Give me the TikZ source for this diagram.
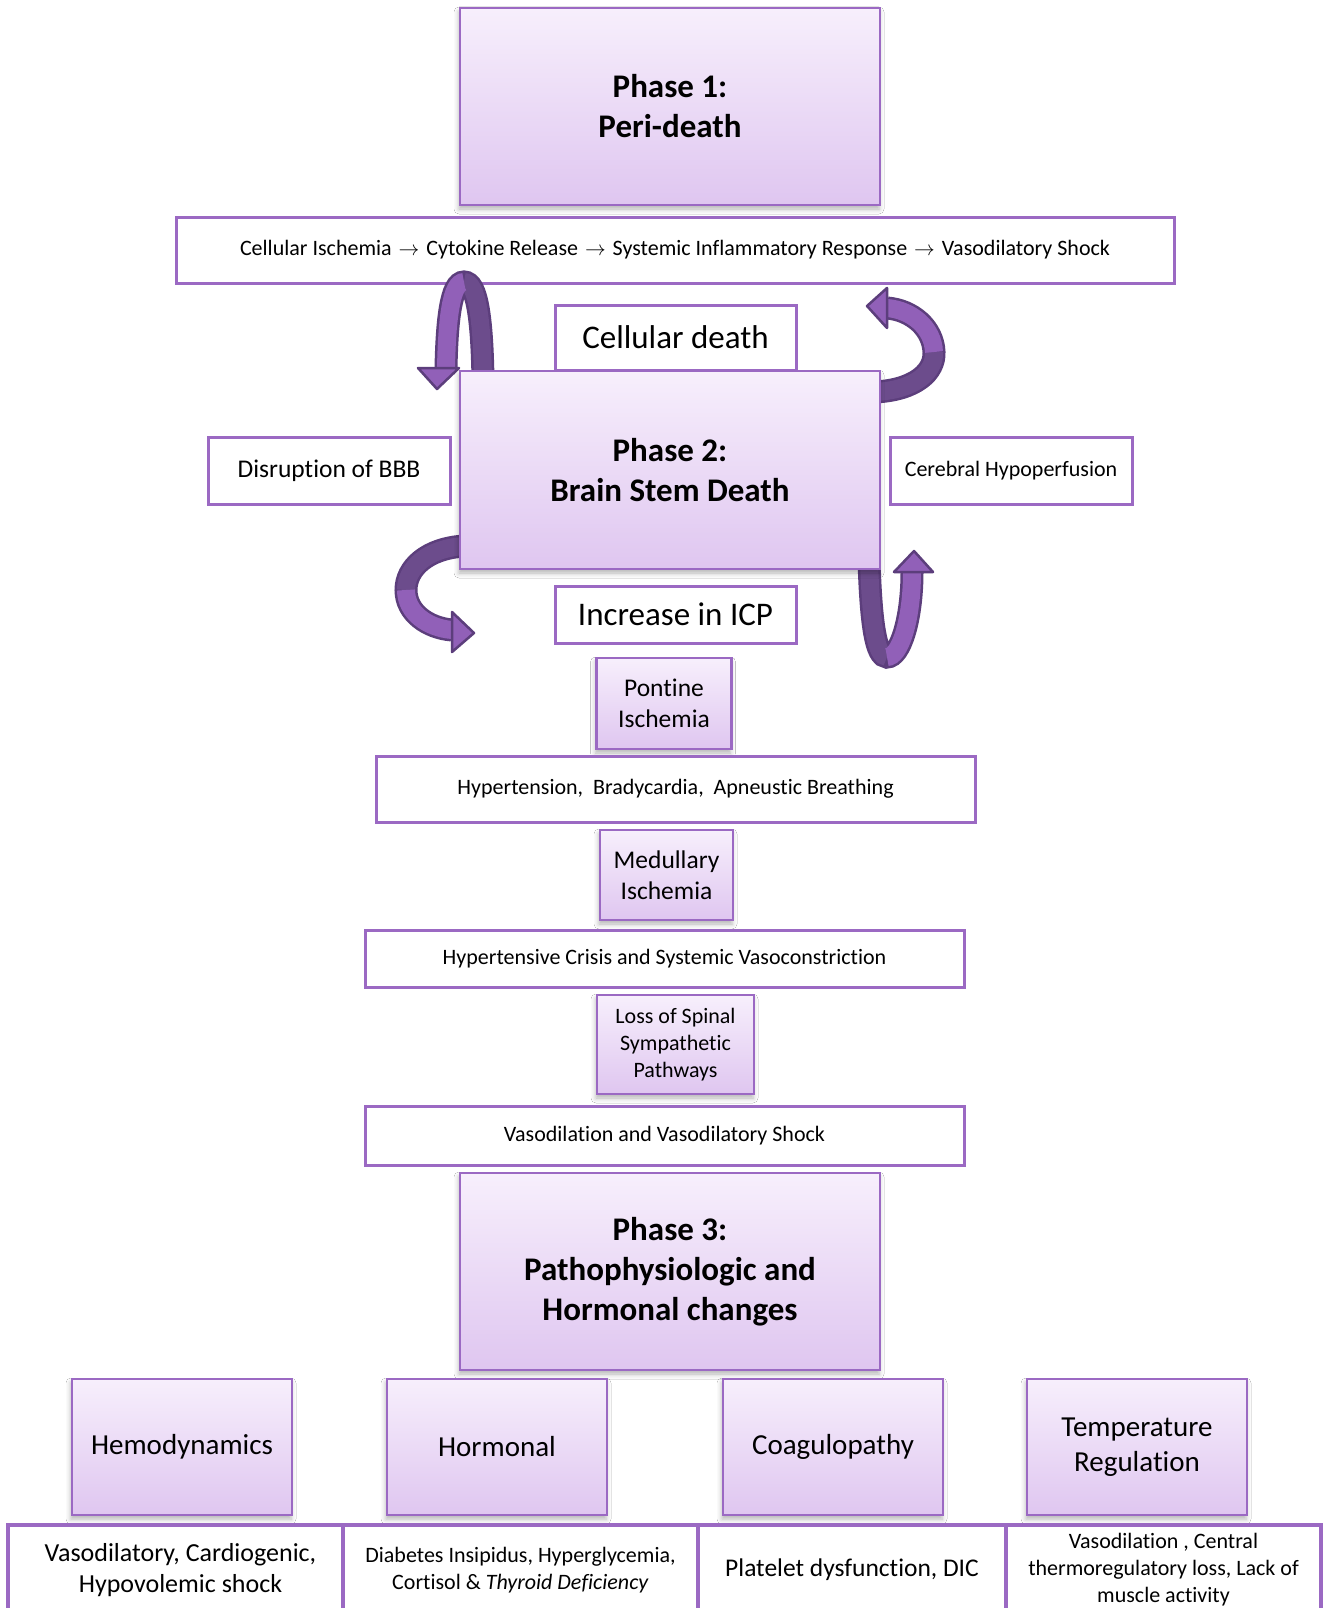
\documentclass[tikz,border=0pt]{standalone}
\usepackage{fontspec}
\setmainfont{Carlito}[Ligatures=NoCommon]
\usetikzlibrary{shadows.blur}
\definecolor{pborder}{RGB}{155,105,195}
\definecolor{gtop}{RGB}{247,239,252}
\definecolor{gbot}{RGB}{223,198,240}
\definecolor{arrL}{RGB}{145,96,184}
\definecolor{arrD}{RGB}{108,76,140}
\definecolor{arrO}{RGB}{92,62,124}
\newcommand{\chainarrow}{\hspace{2pt}$\rightarrow$\hspace{2pt}}
\tikzset{
  gbox/.style={draw=pborder, line width=2.5pt, top color=gtop, bottom color=gbot,
    align=center, inner sep=2pt,
    blur shadow={shadow xshift=-1pt, shadow yshift=-4pt, shadow blur radius=5pt, shadow opacity=30}},
  wbox/.style={draw=pborder, line width=3pt, fill=white, align=center, inner sep=2pt},
  bbox/.style={draw=pborder, line width=3.5pt, fill=white, align=center, inner sep=2pt},
  phasefont/.style={font=\fontsize{33}{40}\selectfont\bfseries},
  bigfont/.style={font=\fontsize{33}{40}\selectfont},
  midfont/.style={font=\fontsize{29}{35}\selectfont},
  medfont/.style={font=\fontsize{25.5}{31}\selectfont},
  smallfont/.style={font=\fontsize{22}{27}\selectfont},
  ribout/.style={arrO, line width=23pt},
  ribdark/.style={arrD, line width=18pt},
  riblight/.style={arrL, line width=18pt},
  ribhead/.style={fill=arrL, draw=arrO, line width=2.5pt, line join=round}
}
\begin{document}
\begin{tikzpicture}[x=1pt, y=-1pt]
\useasboundingbox (0,0) rectangle (1324,1608);
\clip (0,0) rectangle (1324,1608);
\fill[white] (0,0) rectangle (1324,1608);

% Phase 1
\node[gbox, phasefont, minimum width=420pt, minimum height=197pt] (p1) at (670,106.5) {Phase 1:\\Peri-death};
% chain bar
\node[wbox, smallfont, minimum width=998pt, minimum height=66pt] (bar1) at (675,250)
  {Cellular Ischemia \chainarrow{} Cytokine Release \chainarrow{} Systemic Inflammatory Response \chainarrow{} Vasodilatory Shock};

% Arrow 1 (top-left loop)
\coordinate (a1s) at (483,380);
\coordinate (a1t) at (464,282);
\coordinate (a1e) at (446,368);
\draw[ribout] (a1s) .. controls (482,318) and (477,282) .. (a1t) .. controls (451,282) and (447,320) .. (a1e);
\draw[ribdark] (a1s) .. controls (482,318) and (477,282) .. (a1t);
\draw[riblight] (a1t) .. controls (451,282) and (447,320) .. (a1e);
\filldraw[ribhead] (418,368) -- (459,368) -- (437,389) -- cycle;

% Cellular death
\node[wbox, bigfont, minimum width=241pt, minimum height=65pt] (cd) at (675.5,337.5) {Cellular death};

% Arrow 2 (top-right)
\coordinate (a2s) at (875,392);
\coordinate (a2m) at (934,352);
\coordinate (a2e) at (887,308);
\draw[ribout] (a2s) .. controls (915,390) and (935,372) .. (a2m) .. controls (933,328) and (912,310) .. (a2e);
\draw[ribdark] (a2s) .. controls (915,390) and (935,372) .. (a2m);
\draw[riblight] (a2m) .. controls (933,328) and (912,310) .. (a2e);
\filldraw[ribhead] (887,288) -- (887,328) -- (867,306) -- cycle;

% Arrow 3 (bottom-left)
\coordinate (a3s) at (465,546);
\coordinate (a3m) at (406,590);
\coordinate (a3e) at (452,630);
\draw[ribout] (a3s) .. controls (427,548) and (406,568) .. (a3m) .. controls (406,613) and (428,628) .. (a3e);
\draw[ribdark] (a3s) .. controls (427,548) and (406,568) .. (a3m);
\draw[riblight] (a3m) .. controls (406,613) and (428,628) .. (a3e);
\filldraw[ribhead] (452,612) -- (452,652) -- (474,633) -- cycle;

% Arrow 4 (bottom-right)
\coordinate (a4s) at (869,560);
\coordinate (a4m) at (887,657);
\coordinate (a4e) at (912,572);
\draw[ribout] (a4s) .. controls (871,625) and (876,657) .. (a4m) .. controls (900,657) and (912,620) .. (a4e);
\draw[ribdark] (a4s) .. controls (871,625) and (876,657) .. (a4m);
\draw[riblight] (a4m) .. controls (900,657) and (912,620) .. (a4e);
\filldraw[ribhead] (894,572) -- (933,572) -- (914,551) -- cycle;

% Phase 2
\node[gbox, phasefont, minimum width=420pt, minimum height=198pt] (p2) at (670,470) {Phase 2:\\Brain Stem Death};
\node[wbox, medfont, minimum width=242pt, minimum height=67pt] (bbb) at (329,470.5) {Disruption of BBB};
\node[wbox, smallfont, minimum width=242pt, minimum height=67pt] (chyp) at (1011,470.5) {Cerebral Hypoperfusion};
\node[wbox, bigfont, minimum width=241pt, minimum height=57pt] (icp) at (675.5,614.5) {Increase in ICP};

\node[gbox, medfont, minimum width=135pt, minimum height=91pt] (pont) at (664,703.5) {Pontine\\Ischemia};
\node[wbox, smallfont, minimum width=599pt, minimum height=66pt] (hyp) at (675.5,789) {Hypertension,\ \ Bradycardia,\ \ Apneustic Breathing};
\node[gbox, medfont, minimum width=133pt, minimum height=90pt] (med) at (666.5,875) {Medullary\\Ischemia};
\node[wbox, smallfont, minimum width=599pt, minimum height=57pt] (crisis) at (664.5,958.5) {Hypertensive Crisis and Systemic Vasoconstriction};
\node[gbox, smallfont, minimum width=157pt, minimum height=99pt] (spinal) at (675.5,1044.5) {Loss of Spinal\\Sympathetic\\Pathways};
\node[wbox, smallfont, minimum width=599pt, minimum height=59pt] (vaso) at (664.5,1135.5) {Vasodilation and Vasodilatory Shock};

% Phase 3
\node[gbox, phasefont, minimum width=420pt, minimum height=197pt] (p3) at (670,1271.5) {Phase 3:\\Pathophysiologic and\\Hormonal changes};

% Bottom categories
\node[gbox, midfont, minimum width=220pt, minimum height=136pt] (hemo) at (182,1447) {Hemodynamics};
\node[gbox, midfont, minimum width=220pt, minimum height=136pt] (horm) at (497,1447) {Hormonal};
\node[gbox, midfont, minimum width=220pt, minimum height=136pt] (coag) at (833,1447) {Coagulopathy};
\node[gbox, midfont, minimum width=220pt, minimum height=136pt] (temp) at (1137,1447) {Temperature\\Regulation};

% Bottom details
\node[bbox, font=\fontsize{26}{31}\selectfont, minimum width=335pt, minimum height=90pt] (d1) at (175.5,1570) {\hspace*{10pt}Vasodilatory, Cardiogenic,\\\hspace*{10pt}Hypovolemic shock};
\node[bbox, smallfont, minimum width=355pt, minimum height=90pt] (d2) at (520.5,1570) {Diabetes Insipidus, Hyperglycemia,\\Cortisol \& \textit{Thyroid Deficiency}};
\node[bbox, medfont, minimum width=308pt, minimum height=90pt] (d3) at (852,1570) {Platelet dysfunction, DIC};
\node[bbox, smallfont, minimum width=315pt, minimum height=90pt] (d4) at (1163.5,1570) {Vasodilation , Central\\thermoregulatory loss, Lack of\\muscle activity};
\end{tikzpicture}
\end{document}
